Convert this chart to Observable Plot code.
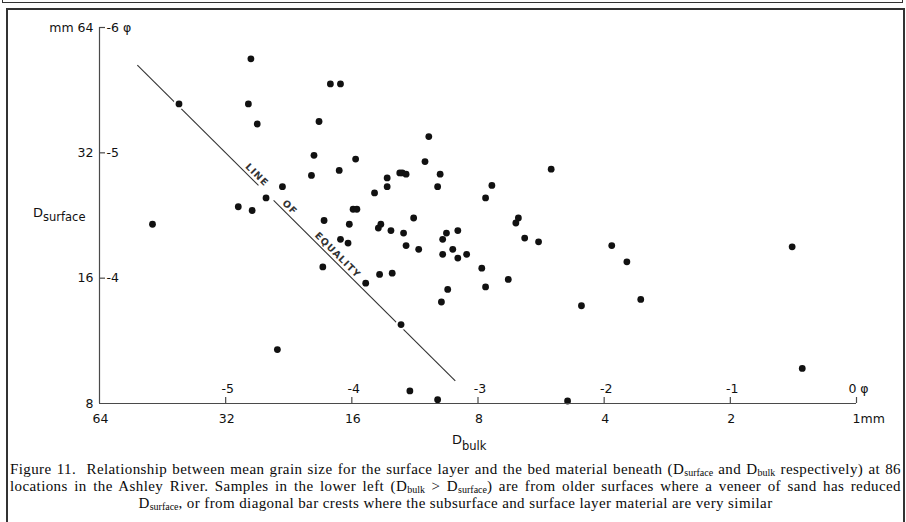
<!DOCTYPE html>
<html><head><meta charset="utf-8">
<script src="https://cdn.jsdelivr.net/npm/d3@7"></script>
<script src="https://cdn.jsdelivr.net/npm/@observablehq/plot@0.6"></script>
<style>
html,body{margin:0;padding:0;background:#fff;}
body{width:906px;height:522px;overflow:hidden;position:relative;}
#prev{position:absolute;left:2px;top:-12px;width:899px;height:13px;border:1.5px solid #333;}
#frame{position:absolute;left:6px;top:8px;width:895px;height:560px;border:2px solid #333;}
#chart{position:absolute;left:0;top:0;}
#caption{position:absolute;left:10px;top:461px;width:891px;font-family:"Liberation Serif",serif;font-size:15px;letter-spacing:0.4px;line-height:17px;color:#0a0a0a;}
#caption div{white-space:nowrap;}
#caption .j{text-align:justify;text-align-last:justify;}
#caption .c{text-align:center;}
#caption sub{font-size:10px;letter-spacing:0;vertical-align:-2px;line-height:0;}
.eqlabel text{letter-spacing:1px;}
</style>
</head><body>
<div id="prev"></div>
<div id="frame"></div>
<div id="chart"></div>
<div id="caption">
<div class="j">Figure 11.&nbsp; Relationship between mean grain size for the surface layer and the bed material beneath (D<sub>surface</sub> and D<sub>bulk</sub> respectively) at 86</div>
<div class="j">locations in the Ashley River. Samples in the lower left (D<sub>bulk</sub> &gt; D<sub>surface</sub>) are from older surfaces where a veneer of sand has reduced</div>
<div class="c">D<sub>surface</sub>, or from diagonal bar crests where the subsurface and surface layer material are very similar</div>
</div>
<script>
// D_bulk and D_surface in phi units (phi = -log2 mm)
const dBulkPhi = [
-4.80,-5.37,-4.82,-4.75,-4.17,-4.09,-4.26,-4.30,-4.32,-4.55,
-4.68,-4.90,-4.79,-5.58,-4.59,-3.39,-4.10,-3.97,-3.42,-3.72,
-3.72,-3.62,-3.60,-3.57,-3.30,-3.32,-3.82,-3.99,-3.96,-4.22,
-4.02,-3.51,-3.77,-3.79,-3.69,-3.59,-4.09,-4.03,-3.25,-3.28,
-3.57,-3.47,-3.28,-4.23,-3.78,-3.68,-3.89,-3.24,-2.42,-2.89,
-2.94,-2.68,-2.70,-3.16,-2.63,-2.52,-3.20,-3.16,-3.09,-2.97,
-2.94,-2.76,-2.18,-1.94,-1.82,-1.71,-0.51,-0.43,-3.54,-3.32,
-2.29,-3.61,-3.29];
const dSurfPhi = [
-5.75,-5.39,-5.39,-5.23,-5.55,-5.55,-5.25,-4.98,-4.82,-4.73,
-4.64,-4.57,-4.54,-4.43,-3.43,-5.13,-4.86,-4.95,-4.93,-4.80,
-4.73,-4.84,-4.84,-4.83,-4.83,-4.73,-4.68,-4.55,-4.55,-4.46,
-4.43,-4.48,-4.43,-4.40,-4.38,-4.36,-4.31,-4.28,-4.36,-4.31,
-4.26,-4.23,-4.19,-4.09,-4.03,-4.04,-3.96,-3.91,-4.87,-4.74,
-4.64,-4.48,-4.44,-4.38,-4.32,-4.29,-4.23,-4.16,-4.19,-4.08,
-3.93,-3.99,-3.78,-4.26,-4.13,-3.83,-4.25,-3.28,-3.10,-3.03,
-3.02,-3.63,-3.81];

// axis ticks
const xTickPhi = [-6,-5,-4,-3,-2,-1,0];
const xMmLabels = ["64","32","16","8","4","2","1mm"];
const xPhiLabels = ["","-5","-4","-3","-2","-1","0 φ"];
const yTickPhi = [-6,-5,-4,-3];
const yMmLabels = ["mm 64","32","16","8"];
const yPhiLabels = ["-6 φ","-5","-4",""];

// line of equality (drawn in two pieces) and its lettering
const eqStart = [-5.70, -4.62];
const eqEnd = [-4.74, -3.18];
const eqLabelPhi = [-4.76, -4.50, -4.12];
const eqLabels = ["LINE","OF","EQUALITY"];

const points = dBulkPhi.map((b, i) => ({bulk: b, surf: dSurfPhi[i]}));
const xi = d3.range(xTickPhi.length);
const yi = d3.range(yTickPhi.length);
const ink = "#111";
const axisInk = "#4a4a4a";

const chart = Plot.plot({
  width: 906, height: 458,
  marginLeft: 99, marginRight: 50, marginTop: 27, marginBottom: 55,
  x: {domain: [-6, 0], axis: null},
  y: {domain: [-3, -6], axis: null},
  style: {background: "transparent", fontFamily: "DejaVu Sans, sans-serif", fontSize: "12.5px", color: ink},
  marks: [
    Plot.link(d3.range(eqStart.length), {
      x1: i => eqStart[i], y1: i => eqStart[i], x2: i => eqEnd[i], y2: i => eqEnd[i],
      stroke: "#333", strokeWidth: 1.1
    }),
    Plot.text(d3.range(eqLabels.length), {
      x: i => eqLabelPhi[i], y: i => eqLabelPhi[i], text: i => eqLabels[i],
      rotate: 44.8, dy: -8, dx: 1, fontSize: 9.5, fontWeight: "bold", fill: "#333", className: "eqlabel"
    }),
    Plot.dot(points, {x: "bulk", y: "surf", r: 5.5, fill: "white"}),
    Plot.dot(points, {x: "bulk", y: "surf", r: 3.4, fill: ink}),
    // axes
    Plot.ruleY([-3], {x1: -6, x2: 0, stroke: axisInk, strokeWidth: 1.2}),
    Plot.ruleX([-6], {y1: -3, y2: -6, stroke: axisInk, strokeWidth: 1.2}),
    Plot.tickX(xTickPhi.filter(d => d !== -6), {x: d => d, insetTop: 370, stroke: axisInk, strokeWidth: 1.2}),
    Plot.tickY(yTickPhi.filter(d => d !== -3), {y: d => d, insetRight: 751, stroke: axisInk, strokeWidth: 1.2}),
    // x labels: mm below, phi above
    Plot.text(xi.filter(i => i < xi.length - 1), {x: i => xTickPhi[i], y: () => -3, text: i => xMmLabels[i], dy: 15, dx: 1, fill: ink}),
    Plot.text(xi.filter(i => i === xi.length - 1), {x: i => xTickPhi[i], y: () => -3, text: i => xMmLabels[i], dy: 15, dx: -4, textAnchor: "start", fill: ink}),
    Plot.text(xi, {x: i => xTickPhi[i], y: () => -3, text: i => xPhiLabels[i], dy: -15, dx: 2, fill: ink}),
    // y labels: mm left, phi right
    Plot.text(yi, {x: () => -6, y: i => yTickPhi[i], text: i => yMmLabels[i], textAnchor: "end", dx: -6, fill: ink}),
    Plot.text(yi, {x: () => -6, y: i => yTickPhi[i], text: i => yPhiLabels[i], textAnchor: "start", dx: 7, fill: ink})
  ]
});
document.getElementById("chart").appendChild(chart);

// axis titles with subscripts
const svg = d3.select(chart);
const ty = svg.append("text").attr("x", 33).attr("y", 217).attr("text-anchor", "start")
  .attr("font-family", "DejaVu Sans, sans-serif").attr("font-size", 13).attr("fill", ink);
ty.append("tspan").text("D");
ty.append("tspan").attr("dy", 4).attr("font-size", 11.5).text("surface");
const tx = svg.append("text").attr("x", 452).attr("y", 444).attr("text-anchor", "start")
  .attr("font-family", "DejaVu Sans, sans-serif").attr("font-size", 13).attr("fill", ink);
tx.append("tspan").text("D");
tx.append("tspan").attr("dy", 6).attr("font-size", 11.5).text("bulk");
</script>
</body></html>
